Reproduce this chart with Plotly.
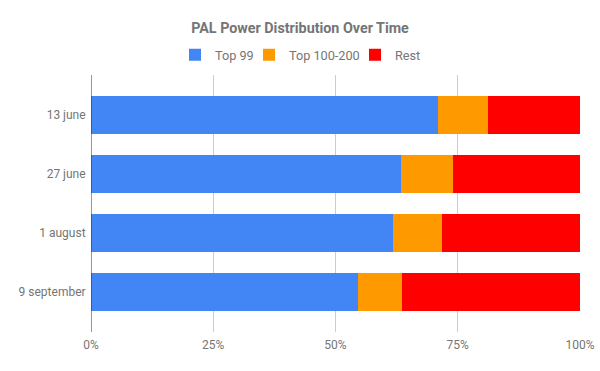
import plotly.graph_objects as go

categories = ["13 june", "27 june", "1 august", "9 september"]
top99 = [71.0, 63.3, 61.8, 54.7]
top100_200 = [10.1, 10.7, 10.0, 8.9]
rest = [18.9, 26.0, 28.2, 36.4]
x_ticks = [0, 25, 50, 75, 100]
x_tick_labels = ["0%", "25%", "50%", "75%", "100%"]

series = [
    ("Top 99", top99, "#4285F4", 29),
    ("Top 100-200", top100_200, "#FF9900", 61),
    ("Rest", rest, "#FF0000", 24),
]

fig = go.Figure()
for name, vals, color, lw in series:
    fig.add_trace(go.Bar(
        y=categories, x=vals, name=name, orientation="h",
        marker=dict(color=color, line=dict(width=0)),
        legendwidth=lw,
    ))

W, H = 600, 371
L, R, T, B = 91, 20, 75, 39
pw = W - L - R
ph = H - T - B

fig.update_layout(
    width=W, height=H,
    barmode="stack",
    bargap=0.356,
    margin=dict(l=L, r=R, t=T, b=B, pad=0, autoexpand=False),
    paper_bgcolor="white",
    plot_bgcolor="white",
    font=dict(family="Roboto", size=12, color="#757575"),
    title=dict(
        text="<b>PAL Power Distribution Over Time</b>",
        font=dict(family="Roboto", size=14.3, color="#757575"),
        x=0.5, xanchor="center", xref="container",
        y=1 - 28 / H, yanchor="middle", yref="container",
    ),
    legend=dict(
        orientation="h",
        x=(175 - L) / pw, xanchor="left",
        y=1 + 20 / ph, yanchor="middle",
        font=dict(family="Roboto", size=12.7, color="#757575"),
        traceorder="normal",
        itemclick=False,
    ),
    showlegend=True,
)

fig.update_xaxes(
    range=[0, 100],
    tickvals=x_ticks,
    ticktext=x_tick_labels,
    showgrid=True, gridcolor="#CCCCCC", gridwidth=1,
    zeroline=False,
    showline=False,
    ticks="outside", ticklen=2, tickcolor="rgba(0,0,0,0)",
    automargin=False,
    tickfont=dict(family="Roboto", size=12, color="#757575"),
)

fig.update_yaxes(
    type="category",
    categoryorder="array", categoryarray=categories,
    range=[3.678, -0.678],
    showgrid=False,
    zeroline=False,
    showline=False,
    ticks="outside", ticklen=2, tickcolor="rgba(0,0,0,0)",
    automargin=False,
    tickfont=dict(family="Roboto", size=12, color="#757575"),
)

# dark baseline axis at 0%
fig.add_shape(type="line", xref="x", yref="paper", x0=0, x1=0, y0=0, y1=1,
              line=dict(color="#333333", width=1), layer="above")

fig.write_html(
    "out.html",
    config={"displayModeBar": False},
    post_script="document.body.style.margin='0';document.body.style.padding='0';document.body.style.overflow='hidden';",
)
